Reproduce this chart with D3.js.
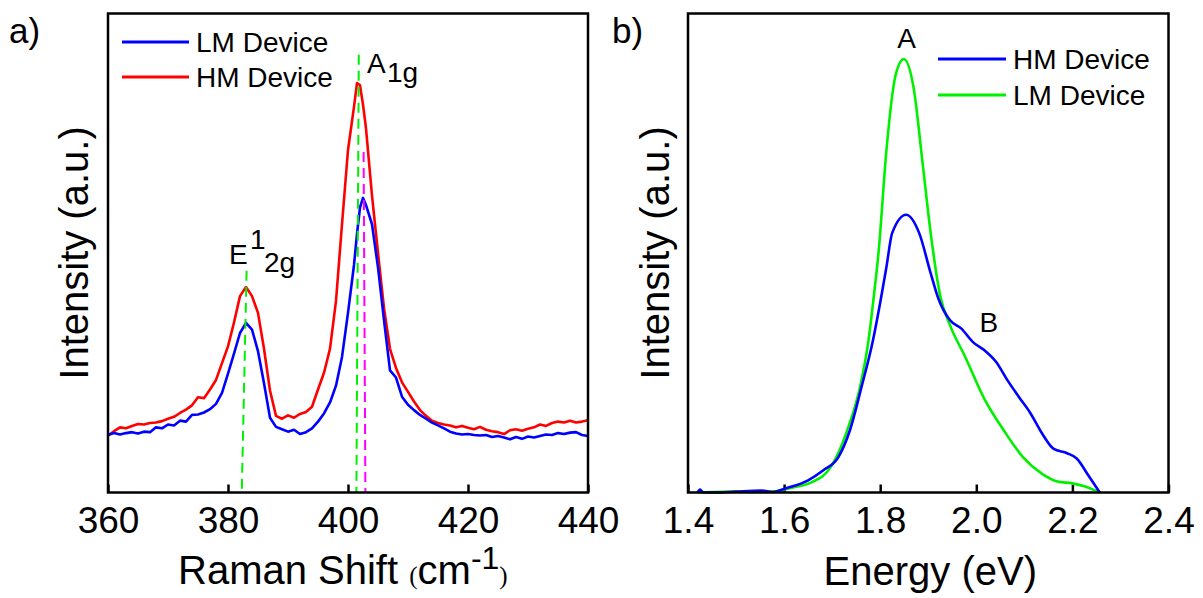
<!DOCTYPE html>
<html>
<head>
<meta charset="utf-8">
<script src="https://cdn.jsdelivr.net/npm/d3@7/dist/d3.min.js"></script>
<style>
  html, body { margin: 0; padding: 0; background: #fff; }
  svg { display: block; font-family: "Liberation Sans", Arial, sans-serif; }
</style>
</head>
<body>
<svg id="chart" width="1203" height="598"></svg>
<script>
// ---------------- DATA ----------------
// Panel a: Raman spectra
const ramanShift = [360,361,362,363,364,365,366,367,368,369,370,371,372,373,374,375,376,377,378,379,
  380,381,382,383,384,385,386,387,388,389,390,391,392,393,394,395,396,397,398,399,400,401,401.5,402,402.5,
  403,404,405,406,407,408,409,410,411,412,413,414,415,416,417,418,419,420,421,422,423,424,425,426,427,428,
  429,430,431,432,433,434,435,436,437,438,439,440];
const lmRaman = [12.0,12.4,12.1,12.4,12.6,12.3,12.7,12.6,13.6,13.4,14.2,14.0,15.0,14.8,16.2,16.3,16.7,17.4,18.5,20.8,
  24.8,29.0,33.3,35.4,34.0,29.5,22.8,15.6,13.7,13.2,12.7,13.1,12.2,12.6,13.4,14.8,16.5,18.8,22.3,28.3,37.5,47.5,54.0,59.5,61.5,
  60.0,56.0,47.0,36.0,25.5,24.0,20.0,18.3,17.2,16.2,15.4,14.6,14.0,13.4,12.7,12.3,12.1,12.2,12.0,11.9,12.0,11.6,11.8,11.5,11.1,11.6,
  11.2,11.7,11.5,11.8,12.1,12.0,12.4,12.2,12.5,12.6,12.0,11.8];
const hmRaman = [11.9,12.8,13.6,13.4,13.9,14.3,14.2,14.5,14.6,14.9,15.4,15.8,16.6,17.3,18.2,19.9,19.7,21.5,23.5,27.0,
  30.5,35.5,41.0,42.9,41.0,37.5,30.0,21.3,16.0,15.4,16.1,15.6,16.4,16.8,17.9,21.5,25.0,30.0,40.0,56.0,71.5,80.5,85.5,85.0,81.0,
  76.0,62.0,50.0,38.5,30.0,26.0,23.0,21.0,19.0,17.2,16.0,15.0,14.5,14.2,14.0,13.6,13.9,13.5,13.2,13.7,13.1,12.8,12.6,12.2,13.0,13.2,
  12.9,13.3,13.6,14.2,13.9,14.5,14.8,14.6,15.0,14.6,14.8,15.1];
// peak guide lines: [shift at top, intensity at top, shift at bottom, intensity at bottom]
const e2gGuide = [383.1, 46.3, 382.3, 0.4];
const a1gGuideLM = [401.8, 91.4, 401.4, 0.0];
const a1gGuideHM = [402.6, 71.1, 402.9, 0.0];
const ramanTicks = [360, 380, 400, 420, 440];
const ramanLegend = ["LM Device", "HM Device"];

// Panel b: PL spectra
const hmEnergy = [1.42,1.425,1.432,1.456,1.50,1.553,1.577,1.601,1.649,1.681,1.713,1.737,1.761,1.785,1.801,1.813,1.825,
  1.854,1.881,1.905,1.921,1.945,1.969,1.993,2.017,2.041,2.065,2.089,2.113,2.137,2.161,2.189,2.209,2.233,2.257];
const hmPL = [0.0,0.6,0.0,0.0,0.2,0.4,0.1,0.8,2.5,4.6,7.4,13.0,22.0,31.8,40.2,47.1,54.2,
  58.0,54.2,45.8,40.5,36.0,34.2,31.4,29.7,27.3,23.4,19.9,16.5,12.3,9.1,8.2,7.1,3.6,0.0];
const lmEnergy = [1.42,1.45,1.50,1.553,1.585,1.62,1.657,1.697,1.729,1.761,1.776,1.785,1.797,1.813,1.832,1.849,1.869,
  1.889,1.905,1.925,1.945,1.977,2.017,2.057,2.097,2.137,2.169,2.20,2.225,2.257];
const lmPL = [0.0,0.1,0.2,0.1,0.3,1.1,2.1,5.3,12.3,23.4,32.0,39.5,50.6,71.5,87.1,90.5,84.8,
  68.1,54.2,41.0,35.0,28.3,19.5,13.0,7.4,3.9,2.3,1.9,1.3,0.0];
const energyTicks = [1.4, 1.6, 1.8, 2.0, 2.2, 2.4];
const plLegend = ["HM Device", "LM Device"];
const plPeakLabels = [["A", 1.855, 92.8], ["B", 2.026, 33.5]];

// ---------------- LAYOUT ----------------
const svg = d3.select("#chart");
const FONT = "'Liberation Sans', Arial, sans-serif";
const SERIF = "'Liberation Serif', 'Times New Roman', serif";
const yTop = 13.5, yBottom = 492.5;
const panelA = { left: 108, right: 588 };
const panelB = { left: 688, right: 1168.5 };
const col = { blue: "#0000ff", red: "#ff0000", green: "#00f000", magenta: "#ff00ff" };

const y = d3.scaleLinear().domain([0, 100]).range([yBottom, yTop]);
const xA = d3.scaleLinear().domain([360, 440]).range([panelA.left, panelA.right]);
const xB = d3.scaleLinear().domain([1.4, 2.4]).range([panelB.left, panelB.right]);

function drawAxis(x, ticks, fmt) {
  const g = svg.append("g").attr("transform", `translate(0,${yBottom})`)
    .call(d3.axisBottom(x).tickValues(ticks).tickFormat(fmt).tickSizeInner(-8).tickSizeOuter(0).tickPadding(14.5));
  g.select(".domain").remove();
  g.selectAll(".tick line").attr("stroke", "#000").attr("stroke-width", 2.5);
  g.selectAll(".tick text").attr("font-size", 37).attr("font-family", FONT).attr("fill", "#000");
}
drawAxis(xA, ramanTicks, d3.format("d"));
drawAxis(xB, energyTicks, d3.format(".1f"));

// curves
const lineA = (vals) => d3.line().x((d, i) => xA(ramanShift[i])).y(d => y(d))(vals);
svg.append("path").attr("d", lineA(hmRaman)).attr("fill", "none").attr("stroke", col.red).attr("stroke-width", 2.6).attr("stroke-linejoin", "round");
svg.append("path").attr("d", lineA(lmRaman)).attr("fill", "none").attr("stroke", col.blue).attr("stroke-width", 2.6).attr("stroke-linejoin", "round");

// guide lines
[[e2gGuide, col.green], [a1gGuideLM, col.green], [a1gGuideHM, col.magenta]].forEach(([g, c]) => {
  svg.append("line").attr("x1", xA(g[0])).attr("y1", y(g[1])).attr("x2", xA(g[2])).attr("y2", y(g[3]))
    .attr("stroke", c).attr("stroke-width", 2).attr("stroke-dasharray", "10,6");
});

const lineB = (xs) => d3.line().curve(d3.curveMonotoneX).x((d, i) => xB(xs[i])).y(d => y(d));
svg.append("path").attr("d", lineB(lmEnergy)(lmPL)).attr("fill", "none").attr("stroke", col.green).attr("stroke-width", 2.6);
svg.append("path").attr("d", lineB(hmEnergy)(hmPL)).attr("fill", "none").attr("stroke", col.blue).attr("stroke-width", 2.6);

// frames
[panelA, panelB].forEach(p => {
  svg.append("rect").attr("x", p.left).attr("y", yTop).attr("width", p.right - p.left).attr("height", yBottom - yTop)
    .attr("fill", "none").attr("stroke", "#000").attr("stroke-width", 2.5);
});

// legends
function legend(items, colors, lx0, lx1, tx, ys) {
  items.forEach((t, i) => {
    svg.append("line").attr("x1", lx0).attr("x2", lx1).attr("y1", ys[i]).attr("y2", ys[i])
      .attr("stroke", colors[i]).attr("stroke-width", 3);
    svg.append("text").attr("x", tx).attr("y", ys[i] + 10).attr("font-size", 28).attr("font-family", FONT).text(t);
  });
}
legend(ramanLegend, [col.blue, col.red], 122, 189, 196, [42, 77]);
legend(plLegend, [col.blue, col.green], 938, 1006, 1013, [59, 95]);

// panel labels
svg.append("text").attr("x", 9).attr("y", 43).attr("font-size", 35).attr("font-family", FONT).text("a)");
svg.append("text").attr("x", 612).attr("y", 43).attr("font-size", 35).attr("font-family", FONT).text("b)");

// peak labels panel a
const t1 = svg.append("text").attr("font-family", FONT).attr("font-size", 28);
t1.append("tspan").attr("x", 229).attr("y", 264).text("E");
t1.append("tspan").attr("x", 250).attr("y", 249).text("1");
t1.append("tspan").attr("x", 264).attr("y", 272).text("2g");
const t2 = svg.append("text").attr("font-family", FONT).attr("font-size", 28);
t2.append("tspan").attr("x", 367).attr("y", 73).text("A");
t2.append("tspan").attr("x", 387).attr("y", 82).text("1g");

// peak labels panel b
plPeakLabels.forEach(([t, e, v]) => {
  svg.append("text").attr("x", xB(e)).attr("y", y(v)).attr("text-anchor", "middle")
    .attr("font-size", 28).attr("font-family", FONT).text(t);
});

// axis titles
const xt = svg.append("text").attr("x", 178).attr("y", 584).attr("font-family", FONT).attr("font-size", 40);
xt.append("tspan").text("Raman Shift ");
xt.append("tspan").attr("font-family", SERIF).attr("font-size", 25).text("(");
xt.append("tspan").text("cm");
xt.append("tspan").attr("dy", -15).attr("font-size", 32).text("-1");
xt.append("tspan").attr("dy", 15).attr("font-family", SERIF).attr("font-size", 25).text(")");

svg.append("text").attr("x", (panelB.left + panelB.right) / 2 + 2).attr("y", 585).attr("text-anchor", "middle")
  .attr("font-family", FONT).attr("font-size", 40).text("Energy (eV)");

[74, 655].forEach(cx => {
  svg.append("text").attr("transform", `translate(${cx + 14},${(yTop + yBottom) / 2}) rotate(-90)`)
    .attr("text-anchor", "middle").attr("font-family", FONT).attr("font-size", 40).text("Intensity (a.u.)");
});
</script>
</body>
</html>
